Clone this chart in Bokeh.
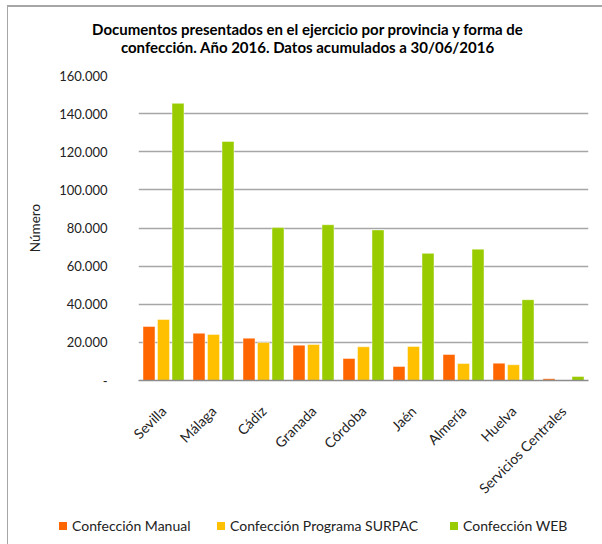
from bokeh.plotting import figure
from bokeh.layouts import column
from bokeh.models import ColumnDataSource, FactorRange, Range1d, FixedTicker, Div
from bokeh.transform import dodge
from bokeh.embed import file_html
from bokeh.resources import INLINE
from math import pi

# ---- data ----
categories = ["Sevilla", "Málaga", "Cádiz", "Granada", "Córdoba", "Jaén",
              "Almería", "Huelva", "Servicios Centrales"]
manual = [28350, 24800, 22200, 18550, 11550, 7350, 13650, 9100, 900]
surpac = [32000, 24150, 19950, 18900, 17700, 17850, 8900, 8250, 0]
web = [145400, 125400, 80200, 81700, 79000, 66700, 68900, 42400, 2100]
series_names = ["Confección Manual", "Confección Programa SURPAC", "Confección WEB"]
y_ticks = [0, 20000, 40000, 60000, 80000, 100000, 120000, 140000, 160000]
y_tick_labels = ["-", "20.000", "40.000", "60.000", "80.000", "100.000",
                 "120.000", "140.000", "160.000"]
title_lines = ["Documentos presentados en el ejercicio por provincia y forma de",
               "confección. Año 2016. Datos acumulados a 30/06/2016"]
y_label = "Número"

colors = ["#FF6600", "#FFC000", "#99CC00"]
FONT = "Lato"
TEXT_COLOR = "#222222"

source = ColumnDataSource(dict(cats=categories, manual=manual, surpac=surpac, web=web))

# ---- title (HTML block above the plot) ----
title_div = Div(
    text=('<div style="width:594px;box-sizing:border-box;padding-left:5px;padding-top:13px;'
          'text-align:center;font-family:Lato,sans-serif;font-weight:bold;font-size:15px;'
          'line-height:18px;color:#000;">' + "<br>".join(title_lines) + '</div>'),
    width=594, height=60, margin=0)

# ---- main plot ----
p = figure(x_range=FactorRange(*categories, range_padding=0),
           y_range=Range1d(0, 160000),
           width=594, height=447,
           min_border_left=130, min_border_right=14,
           min_border_top=8, min_border_bottom=134,
           output_backend="svg", toolbar_location=None)
p.title.visible = False
p.outline_line_color = None
p.background_fill_color = "white"
p.border_fill_color = "white"

for field, off, col in zip(["manual", "surpac", "web"], [-0.29, 0.0, 0.29], colors):
    p.vbar(x=dodge("cats", off, range=p.x_range), top=field, width=0.24,
           source=source, fill_color=col, line_color="white", line_alpha=0.45,
           line_width=1)

p.xgrid.grid_line_color = None
p.ygrid.grid_line_color = "#a6a6a6"
p.ygrid.grid_line_width = 1.3

p.yaxis.ticker = FixedTicker(ticks=y_ticks)
p.yaxis.major_label_overrides = {t: l for t, l in zip(y_ticks, y_tick_labels)}
p.yaxis.axis_line_color = None
p.yaxis.major_tick_line_color = None
p.yaxis.minor_tick_line_color = None
p.yaxis.major_label_standoff = 25
p.yaxis.major_label_text_font = FONT
p.yaxis.major_label_text_font_size = "13px"
p.yaxis.major_label_text_color = TEXT_COLOR
p.yaxis.axis_label = y_label
p.yaxis.axis_label_text_font = FONT
p.yaxis.axis_label_text_font_style = "normal"
p.yaxis.axis_label_text_font_size = "13.5px"
p.yaxis.axis_label_text_color = TEXT_COLOR
p.yaxis.axis_label_standoff = 13

p.xaxis.axis_line_color = "#8c8c8c"
p.xaxis.axis_line_width = 1.3
p.xaxis.major_tick_line_color = None
p.xaxis.minor_tick_line_color = None
p.xaxis.major_label_orientation = pi / 4
p.xaxis.major_label_standoff = 22
p.xaxis.major_label_text_font = FONT
p.xaxis.major_label_text_font_size = "14px"
p.xaxis.major_label_text_color = TEXT_COLOR

# ---- legend (HTML block below the plot) ----
item_left = [51, 209, 442]
items_html = "".join(
    f'<span style="position:absolute;left:{x}px;top:0;white-space:nowrap;">'
    f'<span style="display:inline-block;width:8px;height:8px;background:{c};'
    f'margin-right:5px;vertical-align:middle;position:relative;top:-1px;"></span>{n}</span>'
    for x, c, n in zip(item_left, colors, series_names))
legend_div = Div(
    text=('<div style="position:relative;width:594px;height:30px;font-family:Lato,sans-serif;'
          'font-size:14px;line-height:23px;color:#222;">' + items_html + '</div>'),
    width=594, height=30, margin=0)

layout = column(title_div, p, legend_div, spacing=0,
                styles={"margin-left": "7px", "margin-top": "5px",
                        "border-top": "2px solid #a6a6a6", "border-left": "1px solid #a6a6a6"})

open("out.html", "w").write(file_html(layout, INLINE))
